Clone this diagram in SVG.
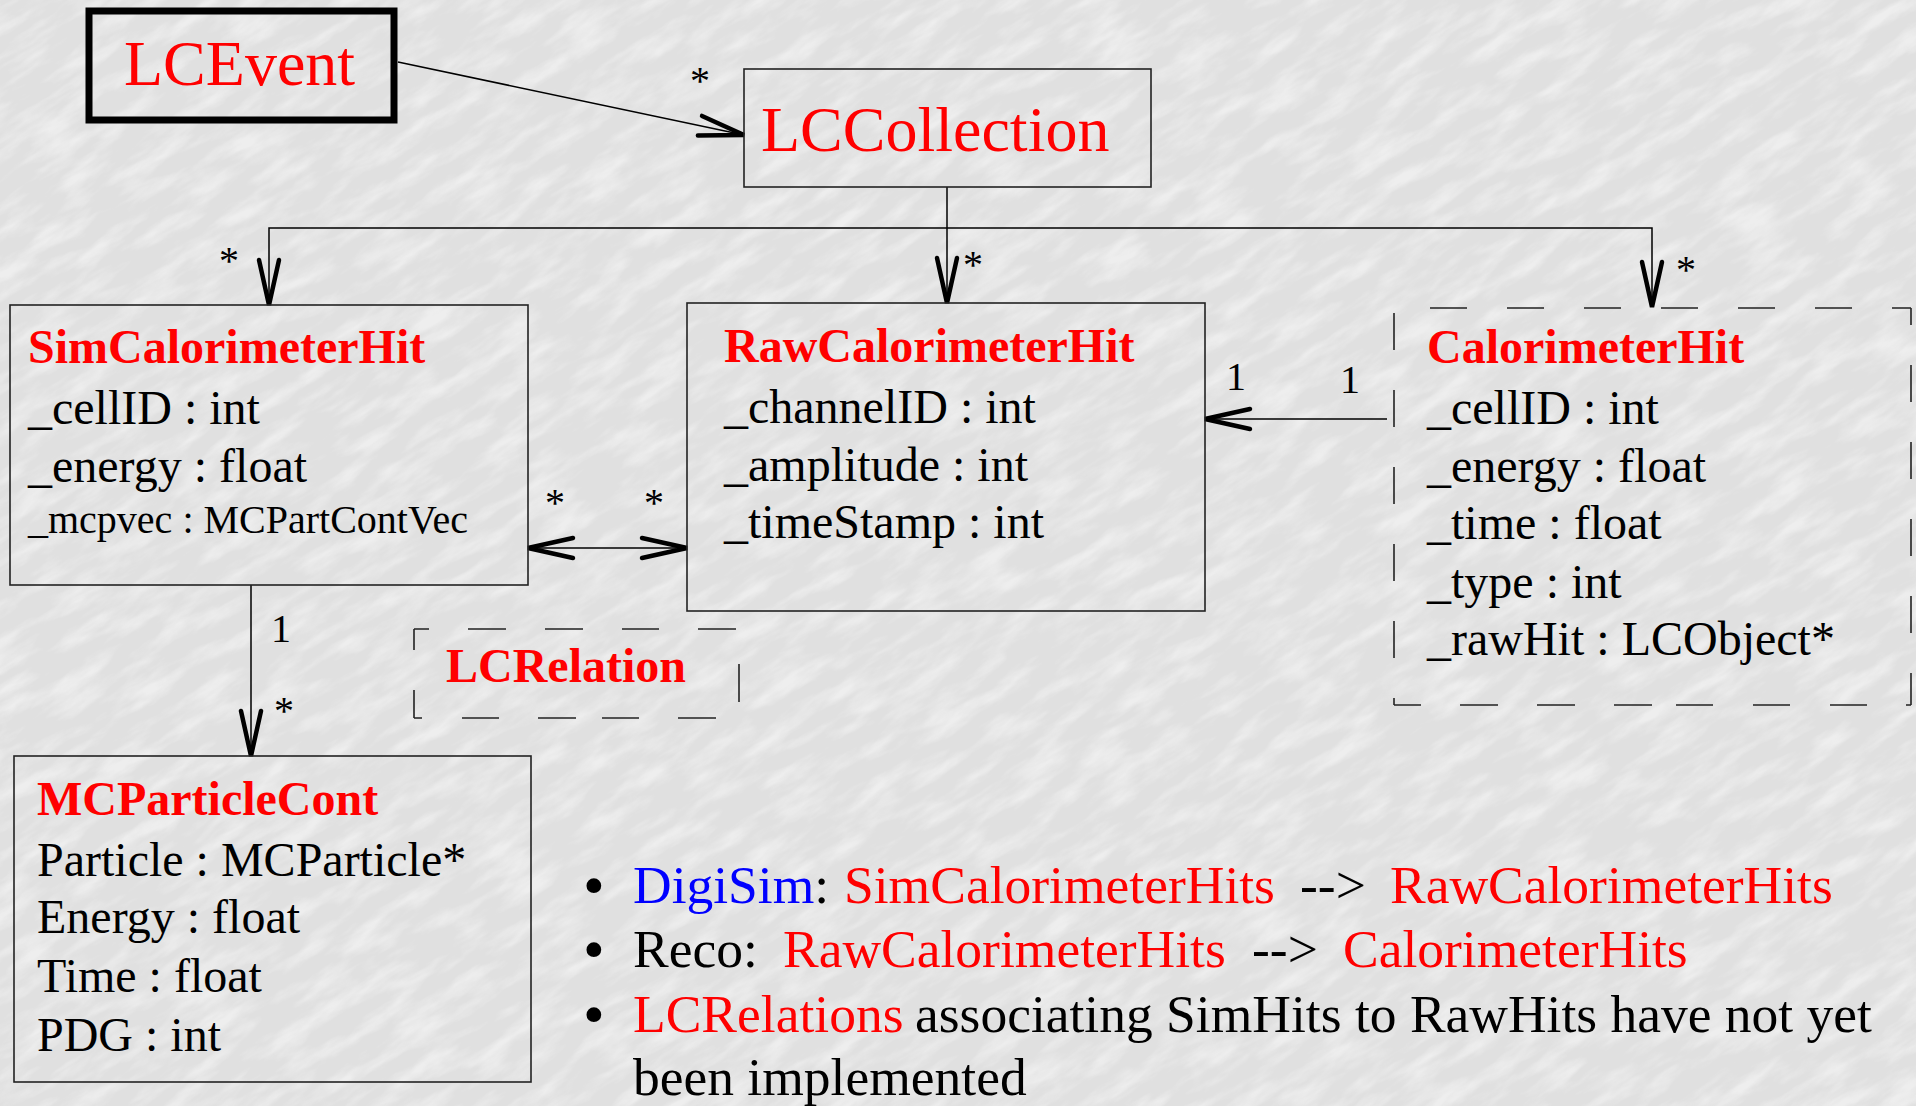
<svg xmlns="http://www.w3.org/2000/svg" width="1916" height="1106" viewBox="0 0 1916 1106">
<style>
text{font-family:"Liberation Serif","Times New Roman",serif;}
.t{font-size:64px;fill:#ff0000;}
.h{font-size:48px;font-weight:bold;fill:#ff0000;}
.a{font-size:48px;fill:#000;}
.s{font-size:40px;fill:#000;}
.lab{font-size:40px;fill:#000;text-anchor:middle;}
.b{font-size:53.5px;fill:#000;}
.r{fill:#ff0000;}
.bl{fill:#0000ff;}
.box{fill:none;stroke:#222;stroke-width:1.6;}
.dash{fill:none;stroke:#222;stroke-width:1.6;stroke-dasharray:37 40;}
.con{fill:none;stroke:#000;stroke-width:1.5;}
.arr{marker-end:url(#open);}
.arr2{marker-start:url(#open);marker-end:url(#open);}
</style>
<defs>
<marker id="open" markerUnits="userSpaceOnUse" orient="auto-start-reverse" refX="0" refY="0" markerWidth="60" markerHeight="30" viewBox="-55 -15 60 30" overflow="visible">
<path d="M-45,-10 L0,0 L-45,10" fill="none" stroke="#000" stroke-width="4.5" stroke-linecap="round"/>
</marker>
<filter id="tex" x="0" y="0" width="100%" height="100%">
<feTurbulence type="fractalNoise" baseFrequency="0.018 0.06" numOctaves="4" seed="11"/>
<feColorMatrix type="matrix" values="0 0 0 0 1  0 0 0 0 1  0 0 0 0 1  2.6 0 0 0 -1.1"/>
</filter>
</defs>
<rect width="1916" height="1106" fill="#e0e0e0"/>
<g transform="rotate(-32 958 553)"><rect x="-400" y="-500" width="2716" height="2106" filter="url(#tex)" opacity="0.45"/></g>

<g id="connectors">
<path class="con" d="M398,62 L744,135" style="marker-end:url(#open)"/>
<path class="con arr" d="M947,187 V303"/>
<path class="con arr" d="M947,228 H269 V305"/>
<path class="con arr" d="M947,228 H1652 V307"/>
<path class="con arr2" d="M528,548 H687"/>
<path class="con arr" d="M1387,419 H1205"/>
<path class="con arr" d="M251,585 V756"/>
<text class="lab" x="700" y="94">*</text>
<text class="lab" x="229" y="274">*</text>
<text class="lab" x="973" y="278">*</text>
<text class="lab" x="1686" y="283">*</text>
<text class="lab" x="555" y="516">*</text>
<text class="lab" x="654" y="516">*</text>
<text class="lab" x="284" y="724">*</text>
<text class="lab" x="1236" y="390">1</text>
<text class="lab" x="1350" y="393">1</text>
<text class="lab" x="281" y="642">1</text>
</g>

<g id="LCEvent">
<rect x="89" y="11" width="305" height="109" fill="none" stroke="#000" stroke-width="7"/>
<text class="t" x="124" y="85">LCEvent</text>
</g>

<g id="LCCollection">
<rect class="box" x="744" y="69" width="407" height="118" stroke="#000"/>
<text class="t" x="761" y="151">LCCollection</text>
</g>

<g id="SimCalorimeterHit">
<rect class="box" x="10" y="305" width="518" height="280"/>
<text class="h" x="28" y="363">SimCalorimeterHit</text>
<text class="a" x="28" y="424">_cellID : int</text>
<text class="a" x="28" y="482">_energy : float</text>
<text class="s" x="28" y="533">_mcpvec : MCPartContVec</text>
</g>

<g id="RawCalorimeterHit">
<rect class="box" x="687" y="303" width="518" height="308"/>
<text class="h" x="724" y="362">RawCalorimeterHit</text>
<text class="a" x="724" y="423">_channelID : int</text>
<text class="a" x="724" y="481">_amplitude : int</text>
<text class="a" x="724" y="538">_timeStamp : int</text>
</g>

<g id="CalorimeterHit">
<path class="dash" d="M1430,308 H1911"/>
<path class="dash" d="M1911,308 V705" style="stroke-dashoffset:20"/>
<path class="dash" d="M1394,313 V705"/>
<path class="dash" d="M1394,705 H1911" style="stroke-dasharray:27 39 38 39 38 39 38 24 37 40 37 40 37 39 6 100"/>
<text class="h" x="1427" y="363">CalorimeterHit</text>
<text class="a" x="1427" y="424">_cellID : int</text>
<text class="a" x="1427" y="482">_energy : float</text>
<text class="a" x="1427" y="539">_time : float</text>
<text class="a" x="1427" y="598">_type : int</text>
<text class="a" x="1427" y="655">_rawHit : LCObject*</text>
</g>

<g id="LCRelation">
<path class="dash" d="M414,629 H738" style="stroke-dasharray:15 39 38 39 38 39 37 39 38 100"/>
<path class="dash" d="M414,629 V718" style="stroke-dasharray:21 40 30"/>
<path class="dash" d="M414,718 H738" style="stroke-dasharray:8 40 37 39 38 26 37 39 38 100"/>
<path class="box" d="M739,664 V702"/>
<text class="h" x="446" y="682">LCRelation</text>
</g>

<g id="MCParticleCont">
<rect class="box" x="14" y="756" width="517" height="326"/>
<text class="h" x="37" y="815">MCParticleCont</text>
<text class="a" x="37" y="876">Particle : MCParticle*</text>
<text class="a" x="37" y="933">Energy : float</text>
<text class="a" x="37" y="992">Time : float</text>
<text class="a" x="37" y="1051">PDG : int</text>
</g>

<g id="notes">
<text class="b" x="583" y="906" style="font-size:62px">•</text>
<text class="b" x="583" y="970" style="font-size:62px">•</text>
<text class="b" x="583" y="1035" style="font-size:62px">•</text>
<text class="b" y="903"><tspan class="bl" x="633">DigiSim</tspan><tspan>:</tspan><tspan class="r" x="844">SimCalorimeterHits</tspan><tspan x="1300">--&gt;</tspan><tspan class="r" x="1390">RawCalorimeterHits</tspan></text>
<text class="b" y="967"><tspan x="633">Reco:</tspan><tspan class="r" x="783">RawCalorimeterHits</tspan><tspan x="1252">--&gt;</tspan><tspan class="r" x="1343">CalorimeterHits</tspan></text>
<text class="b" y="1032"><tspan class="r" x="633">LCRelations</tspan><tspan x="915">associating SimHits to RawHits have not yet</tspan></text>
<text class="b" x="633" y="1095">been implemented</text>
</g>
</svg>
